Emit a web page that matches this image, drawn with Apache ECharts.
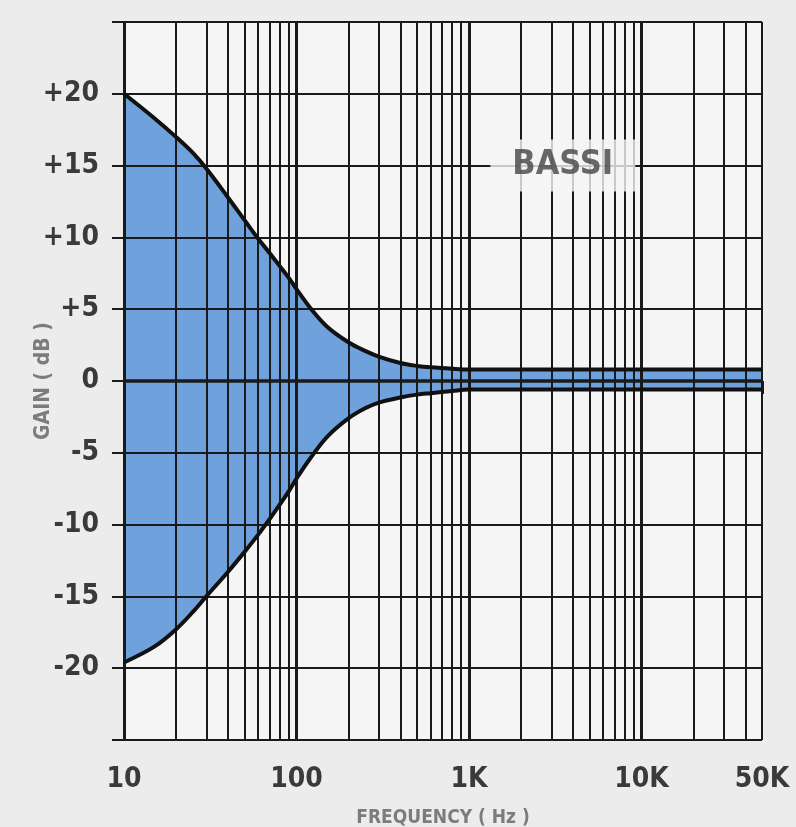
<!DOCTYPE html>
<html>
<head>
<meta charset="utf-8">
<script src="https://cdn.jsdelivr.net/npm/echarts@6/dist/echarts.min.js"></script>
<style>
html,body{margin:0;padding:0;background:#ececec;}
#chart{width:796px;height:827px;}
</style>
</head>
<body>
<div id="chart"></div>
<script>
// Frequencies (Hz) at which the two response curves are sampled
const freqs = [10, 15, 20, 25, 30, 40, 50, 60, 70, 80, 90, 100, 120, 150, 200, 250, 300, 400, 500, 600, 800, 1000, 50000];
// Maximum boost curve (dB)
const boostDb = [20.0, 18.3, 17.0, 15.9, 14.8, 12.8, 11.2, 9.9, 8.9, 8.0, 7.2, 6.4, 5.1, 3.8, 2.7, 2.1, 1.7, 1.25, 1.05, 0.95, 0.85, 0.8, 0.8];
// Maximum cut curve (dB)
const cutDb = [-19.6, -18.5, -17.3, -16.1, -15.0, -13.3, -11.9, -10.7, -9.6, -8.6, -7.7, -6.8, -5.4, -3.9, -2.6, -1.9, -1.5, -1.15, -0.95, -0.85, -0.7, -0.6, -0.6];

// Log-paper vertical grid lines and major decades
const freqGrid = [10,20,30,40,50,60,70,80,90,100,200,300,400,500,600,700,800,900,1000,2000,3000,4000,5000,6000,7000,8000,9000,10000,20000,30000,40000,50000];
const majorFreqs = [10, 100, 1000, 10000];
// Horizontal grid lines (dB)
const gainGrid = [-25,-20,-15,-10,-5,0,5,10,15,20,25];

// Tick labels
const xTickValues = [10, 100, 1000, 10000, 50000];
const xTickLabels = ['10', '100', '1K', '10K', '50K'];
const yTickValues = [-20, -15, -10, -5, 0, 5, 10, 15, 20];
const yTickLabels = ['-20', '-15', '-10', '-5', '0', '+5', '+10', '+15', '+20'];

const title = 'BASSI';
const xName = 'FREQUENCY ( Hz )';
const yName = 'GAIN ( dB )';

const FONT = '"Liberation Sans Narrow", "DejaVu Sans Condensed", "Liberation Sans", sans-serif';
const INK = '#1a1a1a';
const FILL = '#6fa2dc';

const boostPts = freqs.map((f, i) => [f, boostDb[i]]);
const cutPts = freqs.map((f, i) => [f, cutDb[i]]);

const chart = echarts.init(document.getElementById('chart'), null, {renderer: 'canvas'});
chart.setOption({
  backgroundColor: '#ececec',
  animation: false,
  grid: {left: 124, right: 34, top: 22, bottom: 87, show: true, backgroundColor: '#f5f5f5', borderWidth: 0, outerBoundsMode: 'none', containLabel: false},
  xAxis: {
    type: 'log', logBase: 10, min: 10, max: 50000,
    name: xName, nameLocation: 'middle', nameGap: 69, nameMoveOverlap: false,
    nameTextStyle: {fontFamily: FONT, fontWeight: 'bold', fontSize: 19, color: '#7c7c7c'},
    axisLine: {show: false},
    splitLine: {show: false},
    minorSplitLine: {show: false},
    axisTick: {show: true, length: 13, customValues: xTickValues, lineStyle: {color: INK, width: 3}},
    axisLabel: {
      customValues: xTickValues, margin: 26,
      fontFamily: FONT, fontWeight: 'bold', fontSize: 28, color: '#3a3a3a',
      formatter: v => { const i = xTickValues.indexOf(Math.round(v)); return i >= 0 ? xTickLabels[i] : ''; }
    }
  },
  yAxis: {
    type: 'value', min: -25, max: 25, interval: 5,
    name: yName, nameLocation: 'middle', nameRotate: 90, nameGap: 70, nameMoveOverlap: false,
    nameTextStyle: {fontFamily: FONT, fontWeight: 'bold', fontSize: 21, color: '#7c7c7c'},
    axisLine: {show: false},
    splitLine: {show: false},
    axisTick: {show: true, length: 12, lineStyle: {color: INK, width: 2}},
    axisLabel: {
      margin: 25, fontFamily: FONT, fontWeight: 'bold', fontSize: 28, color: '#3a3a3a',
      formatter: v => { const i = yTickValues.indexOf(v); return i >= 0 ? yTickLabels[i] : ''; }
    }
  },
  series: [
    {
      type: 'line', name: 'boostFill', data: boostPts, smooth: 0.35,
      symbol: 'none', lineStyle: {opacity: 0}, areaStyle: {color: FILL, opacity: 1, origin: 0}, z: 1, silent: true
    },
    {
      type: 'line', name: 'cutFill', data: cutPts, smooth: 0.35,
      symbol: 'none', lineStyle: {opacity: 0}, areaStyle: {color: FILL, opacity: 1, origin: 0}, z: 1, silent: true
    },
    {
      type: 'line', name: 'grid', data: [], silent: true, z: 3,
      markLine: {
        silent: true, symbol: ['none', 'none'], label: {show: false}, z: 3, animation: false,
        data: freqGrid.map(f => ({xAxis: f, lineStyle: {color: INK, type: 'solid', width: majorFreqs.includes(f) ? 3 : 2}}))
          .concat(gainGrid.map(g => ({yAxis: g, lineStyle: {color: INK, type: 'solid', width: g === 0 ? 3.5 : 2}})))
      }
    },
    {
      type: 'line', name: 'boost', data: boostPts, smooth: 0.35, symbol: 'none',
      lineStyle: {color: '#111', width: 4}, z: 5, silent: true
    },
    {
      type: 'line', name: 'cut', data: cutPts, smooth: 0.35, symbol: 'none',
      lineStyle: {color: '#111', width: 4}, z: 5, silent: true
    },
    {
      type: 'scatter', name: 'label', data: [[3500, 15]], symbolSize: 0, z: 10, silent: true,
      label: {
        show: true, position: 'inside', formatter: title,
        fontFamily: FONT, fontWeight: 'bold', fontSize: 34, color: '#444',
        backgroundColor: '#f5f5f5', padding: [9, 22, 9, 22]
      }
    }
  ]
});
</script>
</body>
</html>
